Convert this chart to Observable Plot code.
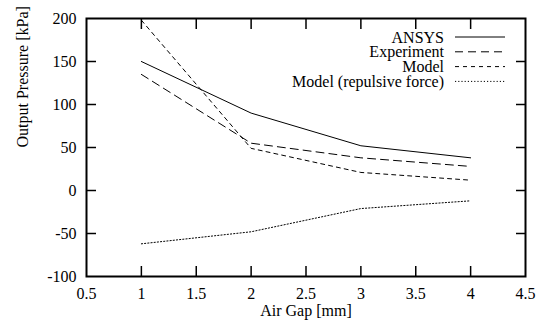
<!DOCTYPE html>
<html>
<head>
<meta charset="utf-8">
<script src="https://cdn.jsdelivr.net/npm/d3@7"></script>
<script src="https://cdn.jsdelivr.net/npm/@observablehq/plot@0.6"></script>
<style>
  html, body { margin: 0; padding: 0; background: #fff; }
  #chart svg { display: block; }
  #chart svg, #chart svg text { font-family: "Liberation Serif", serif !important; }
</style>
</head>
<body>
<div id="chart"></div>
<script>
const gaps = [1, 2, 3, 4];
const ansys = [150, 90, 52, 38];
const experiment = [135, 55, 38, 28];
const model = [198, 49, 21, 12];
const repulsive = [-62, -48, -21, -12];

const seriesNames = ["ANSYS", "Experiment", "Model", "Model (repulsive force)"];
const seriesValues = [ansys, experiment, model, repulsive];
const seriesDash = ["none", "8,5", "4,4", "1.2,2"];

const xTicks = [0.5, 1, 1.5, 2, 2.5, 3, 3.5, 4, 4.5];
const xInnerTicks = [1, 1.5, 2, 2.5, 3, 3.5, 4];
const yTicks = [-100, -50, 0, 50, 100, 150, 200];
const yInnerTicks = [-50, 0, 50, 100, 150];

const xLabel = "Air Gap [mm]";
const yLabel = "Output Pressure [kPa]";

const rows = seriesNames.map((name, i) =>
  gaps.map((g, j) => ({series: name, gap: g, value: seriesValues[i][j]}))
);

const fmt = d => String(d);

const plot = Plot.plot({
  width: 537,
  height: 324,
  marginLeft: 86,
  marginRight: 12,
  marginTop: 18,
  marginBottom: 48,
  style: {fontSize: "16px", color: "black", background: "white"},
  x: {domain: [0.5, 4.5]},
  y: {domain: [-100, 200]},
  marks: [
    // inward ticks
    Plot.axisX({anchor: "bottom", ticks: xInnerTicks, tickSize: -10, text: null, label: null, strokeWidth: 1.5}),
    Plot.axisX({anchor: "top", ticks: xInnerTicks, tickSize: -10, text: null, label: null, strokeWidth: 1.5}),
    Plot.axisY({anchor: "left", ticks: yInnerTicks, tickSize: -10, text: null, label: null, strokeWidth: 1.5}),
    Plot.axisY({anchor: "right", ticks: yInnerTicks, tickSize: -10, text: null, label: null, strokeWidth: 1.5}),
    // tick labels
    Plot.axisX({anchor: "bottom", ticks: xTicks, tickSize: 0, tickPadding: 11, tickFormat: fmt, label: null, fontSize: 16}),
    Plot.axisY({anchor: "left", ticks: yTicks, tickSize: 0, tickPadding: 10, tickFormat: fmt, label: null, fontSize: 16}),
    // axis titles
    Plot.text([xLabel], {text: d => d, frameAnchor: "bottom", dy: 39, fontSize: 16}),
    Plot.text([yLabel], {text: d => d, frameAnchor: "left", dx: -64, rotate: -90, fontSize: 16}),
    // series
    ...rows.map((r, i) => Plot.line(r, {x: "gap", y: "value", stroke: "black", strokeWidth: 1, strokeDasharray: seriesDash[i], clip: true})),
    Plot.frame({stroke: "black", strokeWidth: 2})
  ]
});

document.getElementById("chart").appendChild(plot);

// legend (top-right inside plot)
const svg = d3.select(plot);
const lg = svg.append("g").attr("font-size", 16);
seriesNames.forEach((name, i) => {
  const cy = 37 + i * 14.8;
  lg.append("text").attr("x", 444).attr("y", cy + 5.5).attr("text-anchor", "end").attr("fill", "black").text(name);
  lg.append("line").attr("x1", 455).attr("x2", 505).attr("y1", cy).attr("y2", cy)
    .attr("stroke", "black").attr("stroke-width", 1).attr("stroke-dasharray", seriesDash[i]);
});
</script>
</body>
</html>
